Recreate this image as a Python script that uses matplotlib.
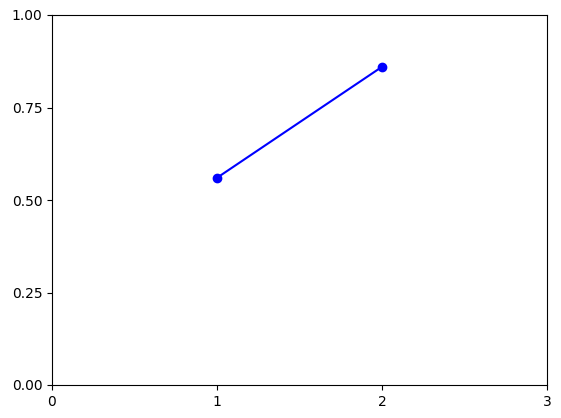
import matplotlib
matplotlib.use('Agg')
import matplotlib.pyplot as plt

# data
xs = [1, 2]
ys = [0.56, 0.86]
xticks = [0, 1, 2, 3]
yticks = [0.0, 0.25, 0.5, 0.75, 1.0]

fig = plt.figure(figsize=(5.61, 4.18), dpi=100)
ax = fig.add_axes([52 / 561, 33 / 418, 495 / 561, 370 / 418])

ax.plot(xs, ys, 'bo-')
ax.set_xlim(0, 3)
ax.set_ylim(0, 1)
ax.set_xticks(xticks)
ax.set_yticks(yticks)

fig.savefig('out.png', dpi=100)
